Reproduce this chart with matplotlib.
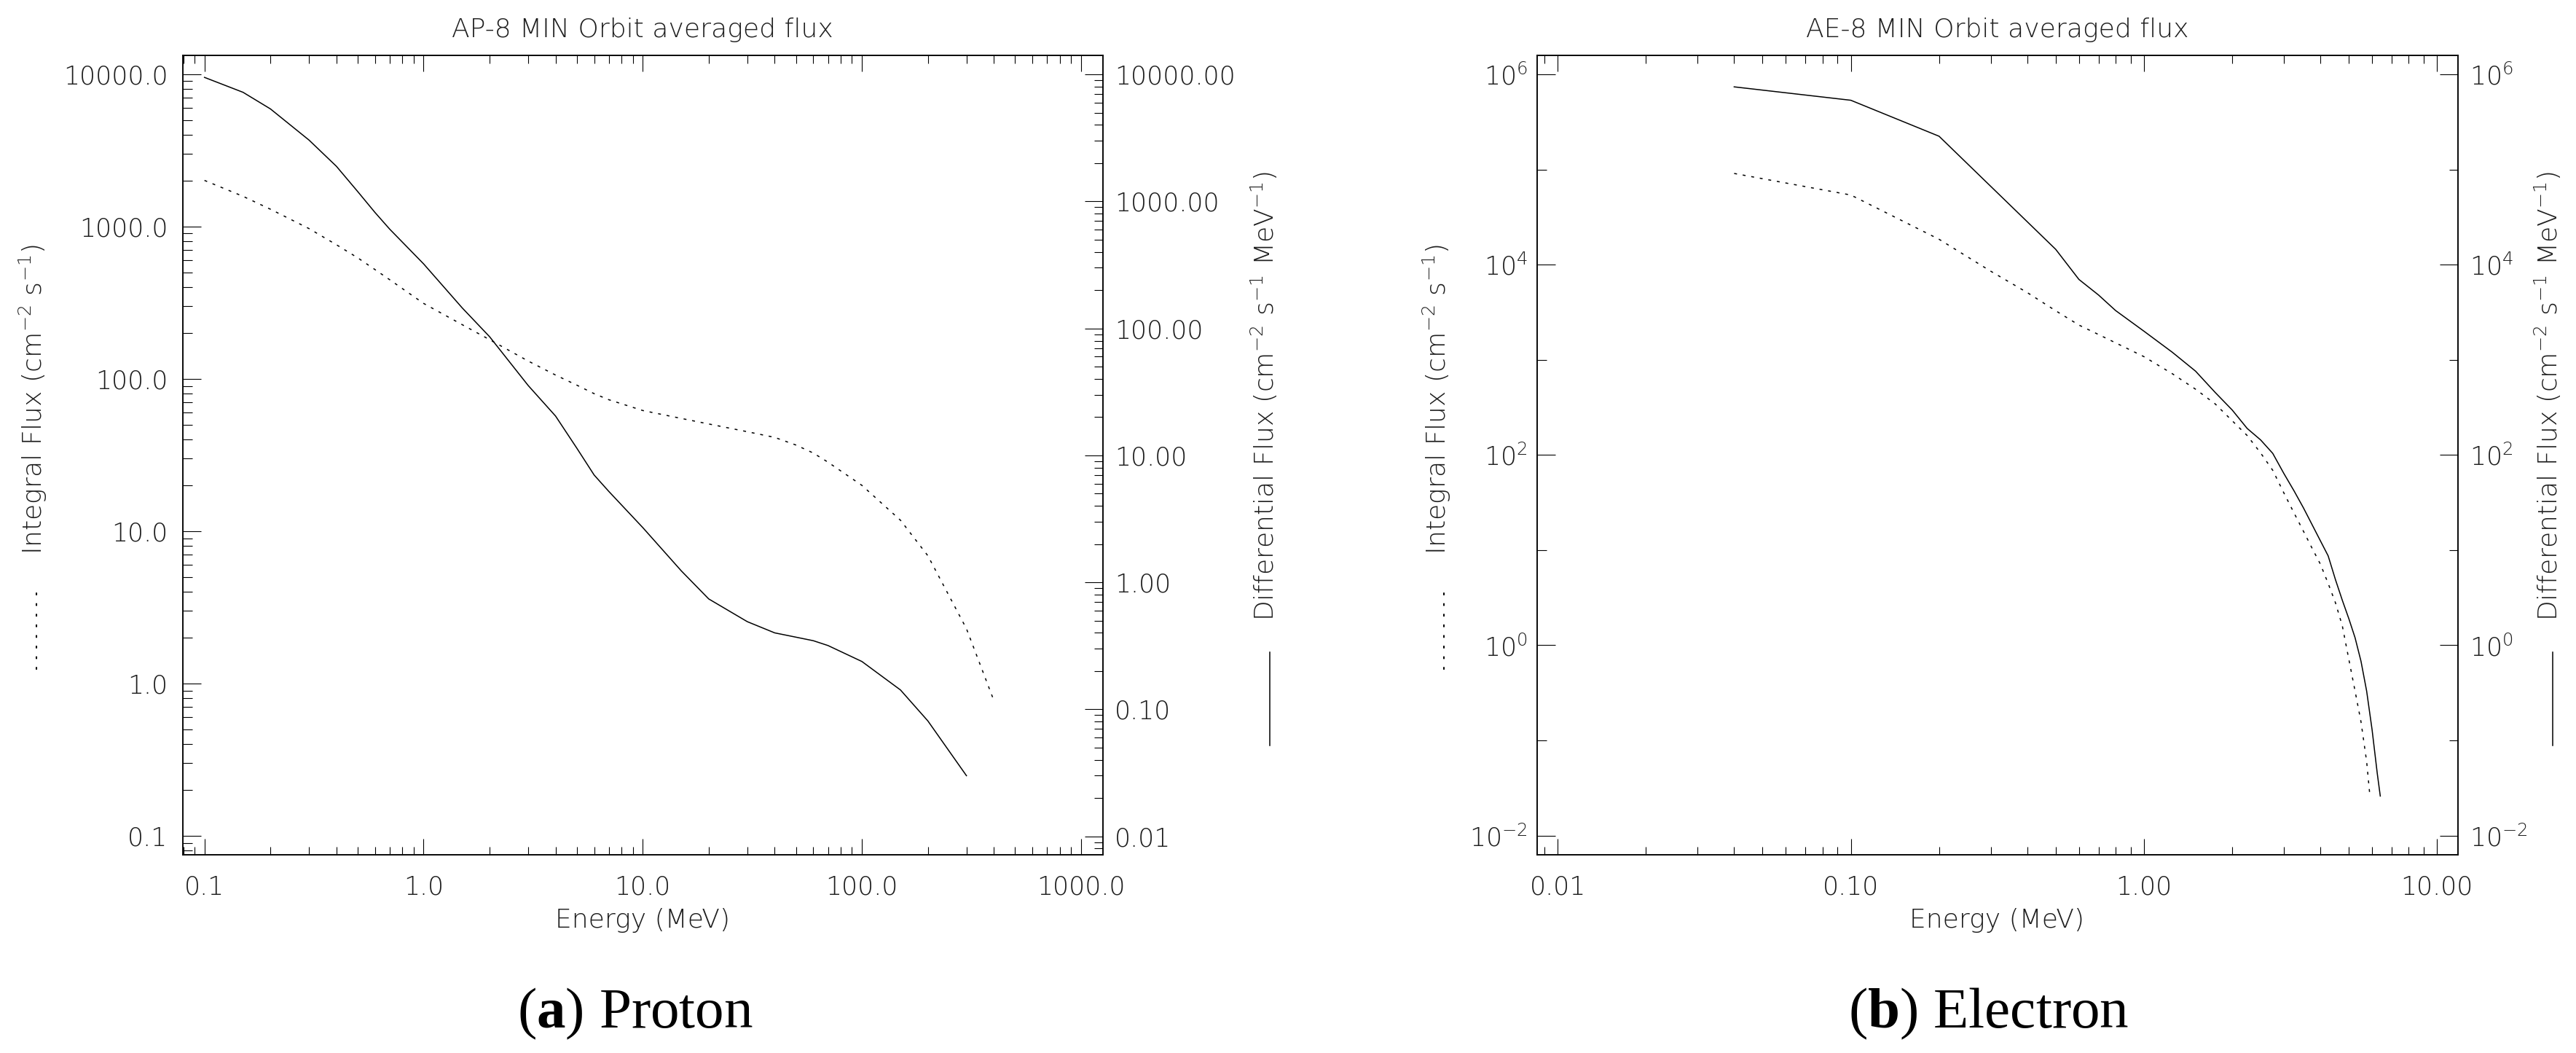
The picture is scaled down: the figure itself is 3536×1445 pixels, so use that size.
import numpy as np
import matplotlib
matplotlib.use("Agg")
import matplotlib.pyplot as plt
from matplotlib.ticker import FixedLocator, FuncFormatter, NullFormatter, LogLocator
from matplotlib.lines import Line2D

# ---------------- data ----------------
proton_energy_int = [0.1, 0.15, 0.2, 0.3, 0.4, 0.5, 0.6, 0.7, 1.0, 1.5, 2.0, 3.0, 4.0, 5.0, 6.0,
                     7.0, 10.0, 15.0, 20.0, 30.0, 40.0, 50.0, 60.0, 70.0, 100.0, 150.0, 200.0,
                     300.0, 400.0]
proton_integral = [2010, 1580, 1300, 970, 760, 624, 522, 448, 313, 227, 181, 131, 106, 91, 80,
                   73, 62, 55, 50.6, 45, 41.3, 36.8, 32.6, 28.4, 20, 11.8, 6.9, 2.29, 0.774]

proton_energy_diff = [0.1, 0.15, 0.2, 0.3, 0.4, 0.5, 0.6, 0.7, 1.0, 1.5, 2.0, 3.0, 4.0, 5.0, 6.0,
                      7.0, 10.0, 15.0, 20.0, 30.0, 40.0, 50.0, 60.0, 70.0, 100.0, 150.0, 200.0,
                      300.0]
proton_differential = [9480, 7230, 5350, 3040, 1890, 1197, 818, 605, 322, 145, 86, 35.5, 20.4,
                       11.4, 7.0, 5.2, 2.7, 1.23, 0.74, 0.49, 0.40, 0.37, 0.347, 0.318, 0.238,
                       0.142, 0.081, 0.030]

electron_energy_int = [0.04, 0.1, 0.2, 0.3, 0.4, 0.5, 0.6, 0.7, 0.8, 1.0, 1.25, 1.5, 1.75, 2.0,
                       2.25, 2.5, 2.75, 3.0, 3.25, 3.5, 3.75, 4.0, 4.25, 4.5, 4.75, 5.0, 5.25,
                       5.5, 5.75, 5.9]
electron_integral = [9.1e4, 5.4e4, 1.85e4, 8550, 5090, 3280, 2320, 1845, 1510, 1080, 714, 491,
                     344, 229, 160, 105, 69, 40, 24.6, 15.8, 10.4, 7.1, 4.46, 2.8, 1.6, 0.71,
                     0.33, 0.157, 0.060, 0.026]

electron_energy_diff = [0.04, 0.1, 0.2, 0.5, 0.6, 0.7, 0.8, 1.0, 1.25, 1.5, 1.75, 2.0, 2.25, 2.5,
                        2.75, 3.0, 3.25, 3.5, 3.75, 4.0, 4.25, 4.5, 4.75, 5.0, 5.25, 5.5, 5.75,
                        6.0, 6.25, 6.4]
electron_differential = [7.4e5, 5.35e5, 2.24e5, 1.45e4, 7.0e3, 4.8e3, 3.3e3, 2.0e3, 1.2e3, 760,
                         454, 297, 190, 144, 104, 64, 42, 27.8, 18.4, 12.5, 8.7, 4.9, 2.97, 1.9,
                         1.2, 0.68, 0.33, 0.13, 0.045, 0.026]

proton_xticks = [0.1, 1.0, 10.0, 100.0, 1000.0]
proton_yticks_left = [0.1, 1.0, 10.0, 100.0, 1000.0, 10000.0]
proton_yticks_right = [0.01, 0.1, 1.0, 10.0, 100.0, 1000.0, 10000.0]
electron_xticks = [0.01, 0.1, 1.0, 10.0]
electron_yticks = [1e-2, 1e0, 1e2, 1e4, 1e6]
electron_yminor = [1e-1, 1e1, 1e3, 1e5]

# ---------------- style ----------------
W, H, DPI = 3536, 1445, 100
plt.rcParams['font.family'] = ['DejaVu Sans']
plt.rcParams['font.weight'] = 200
plt.rcParams['mathtext.default'] = 'regular'
plt.rcParams['mathtext.fontset'] = 'custom'
plt.rcParams['mathtext.bf'] = 'Liberation Serif:bold'

TXT = '#1e1e1e'
TICK_FS = 25
LABEL_FS = 26
LW = 1.1
DOTTED = (0, (2.6, 5.2))

fig = plt.figure(figsize=(W / DPI, H / DPI), dpi=DPI)


def fx(px):
    return px / W


def fy(py):
    return 1 - py / H


def axes_rect(x0, x1, y0, y1):
    return [fx(x0), fy(y1), fx(x1) - fx(x0), fy(y0) - fy(y1)]


def style_x(ax, ticks, fmt):
    ax.xaxis.set_major_locator(FixedLocator(ticks))
    ax.xaxis.set_minor_locator(LogLocator(10, subs=np.arange(2, 10), numticks=60))
    ax.xaxis.set_major_formatter(FuncFormatter(lambda v, p: fmt.format(v)))
    ax.xaxis.set_minor_formatter(NullFormatter())
    ax.tick_params(axis='x', which='major', direction='in', length=16, width=0.8,
                   top=True, bottom=True, pad=20, labelsize=TICK_FS, labelcolor=TXT)
    ax.tick_params(axis='x', which='minor', direction='in', length=8, width=0.8,
                   top=True, bottom=True)


def style_y(ax, side, pad):
    left = side == 'left'
    ax.tick_params(axis='y', which='major', direction='in', length=18, width=0.8,
                   left=left, right=not left, labelleft=left, labelright=not left,
                   pad=pad, labelsize=TICK_FS, labelcolor=TXT)
    ax.tick_params(axis='y', which='minor', direction='in', length=9, width=0.8,
                   left=left, right=not left)


def spines(ax):
    for s in ax.spines.values():
        s.set_linewidth(1.1)


# ---------------- (a) Proton ----------------
axL = fig.add_axes(axes_rect(250.6, 1514, 76, 1172.7))
axL.set_xscale('log')
axL.set_yscale('log')
axL.plot(proton_energy_int, proton_integral, color='k', lw=LW, linestyle=DOTTED)
axLr = axL.twinx()
axLr.set_yscale('log')
axLr.plot(proton_energy_diff, proton_differential, color='k', lw=LW)
axL.set_xlim(10 ** -1.1, 10 ** 3.1)
axL.set_ylim(10 ** -1.123, 10 ** 4.124)
axLr.set_ylim(10 ** -2.144, 10 ** 4.15)

style_x(axL, proton_xticks, '{:.1f}')
axL.yaxis.set_major_locator(FixedLocator(proton_yticks_left))
axL.yaxis.set_minor_locator(LogLocator(10, subs=np.arange(2, 10), numticks=60))
axL.yaxis.set_major_formatter(FuncFormatter(lambda v, p: '{:.1f}'.format(v)))
axL.yaxis.set_minor_formatter(NullFormatter())
style_y(axL, 'left', 14.5)
axLr.yaxis.set_major_locator(FixedLocator(proton_yticks_right))
axLr.yaxis.set_minor_locator(LogLocator(10, subs=np.arange(2, 10), numticks=60))
axLr.yaxis.set_major_formatter(FuncFormatter(lambda v, p: '{:.2f}'.format(v)))
axLr.yaxis.set_minor_formatter(NullFormatter())
style_y(axLr, 'right', 11.5)
spines(axL)
spines(axLr)

# ---------------- (b) Electron ----------------
axR = fig.add_axes(axes_rect(2110, 3373.5, 76, 1172.7))
axR.set_xscale('log')
axR.set_yscale('log')
axR.plot(electron_energy_int, electron_integral, color='k', lw=LW, linestyle=DOTTED)
axRr = axR.twinx()
axRr.set_yscale('log')
axRr.plot(electron_energy_diff, electron_differential, color='k', lw=LW)
axR.set_xlim(10 ** -2.07, 10 ** 1.07)
axR.set_ylim(10 ** -2.2, 10 ** 6.2)
axRr.set_ylim(10 ** -2.2, 10 ** 6.2)

style_x(axR, electron_xticks, '{:.2f}')
pow_fmt = FuncFormatter(lambda v, p: r'$10^{%d}$' % int(round(np.log10(v))))
for a, side, pad in ((axR, 'left', 9.5), (axRr, 'right', 12)):
    a.yaxis.set_major_locator(FixedLocator(electron_yticks))
    a.yaxis.set_minor_locator(FixedLocator(electron_yminor))
    a.yaxis.set_major_formatter(pow_fmt)
    a.yaxis.set_minor_formatter(NullFormatter())
    style_y(a, side, pad)
    spines(a)

# ---------------- texts ----------------
for cx, title in ((882, 'AP-8 MIN Orbit averaged flux'), (2741.5, 'AE-8 MIN Orbit averaged flux')):
    fig.text(fx(cx), fy(51), title, ha='center', va='baseline', fontsize=LABEL_FS, color=TXT)
    fig.text(fx(cx), fy(1273), 'Energy (MeV)', ha='center', va='baseline',
             fontsize=LABEL_FS, color=TXT)

int_label = r'Integral Flux (cm$^{-2}$ s$^{-1}$)'
diff_label = r'Differential Flux (cm$^{-2}$ s$^{-1}$ MeV$^{-1}$)'
for lx, dot_x in ((45, 50), (1972, 1982)):
    fig.text(fx(lx), fy(548.5), int_label, rotation=90, ha='center', va='center',
             fontsize=LABEL_FS, color=TXT)
    fig.add_artist(Line2D([fx(dot_x), fx(dot_x)], [fy(814), fy(921)], transform=fig.transFigure,
                          color='k', lw=1.5, linestyle=(0, (1, 6)), dash_capstyle='round'))
for lx, line_x in ((1735, 1742.5), (3497, 3504)):
    fig.text(fx(lx), fy(543), diff_label, rotation=90, ha='center', va='center',
             fontsize=LABEL_FS, color=TXT)
    fig.add_artist(Line2D([fx(line_x), fx(line_x)], [fy(895), fy(1023)],
                          transform=fig.transFigure, color='k', lw=1.1))

fig.text(fx(872), fy(1410), r'($\mathbf{a}$) Proton', family='Liberation Serif', weight='normal',
         fontsize=57, ha='center', va='baseline', color='black')
fig.text(fx(2730), fy(1410), r'($\mathbf{b}$) Electron', family='Liberation Serif',
         weight='normal', fontsize=57, ha='center', va='baseline', color='black')

fig.savefig('out.png', dpi=DPI)
